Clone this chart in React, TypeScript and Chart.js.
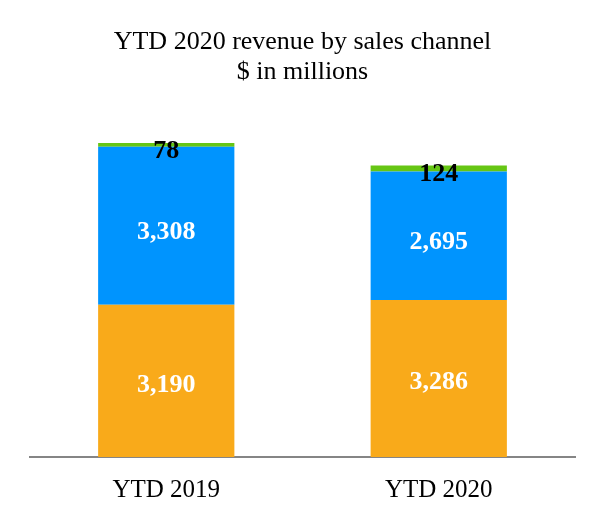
import React, { useEffect, useRef } from "react";
import { Chart, registerables } from "chart.js";

Chart.register(...registerables);

const categories = ["YTD 2019", "YTD 2020"];
const seriesOrange = [3190, 3286];
const seriesBlue = [3308, 2695];
const seriesGreen = [78, 124];
const titleLines = ["YTD 2020 revenue by sales channel", "$ in millions"];

const SERIF = "'Liberation Serif', 'Times New Roman', serif";

const labelPlugin = {
  id: "segLabels",
  afterDatasetsDraw(chart: any) {
    const ctx = chart.ctx;
    ctx.save();
    ctx.textAlign = "center";
    ctx.textBaseline = "middle";
    ctx.font = `bold 26px ${SERIF}`;
    chart.data.datasets.forEach((ds: any, di: number) => {
      const meta = chart.getDatasetMeta(di);
      meta.data.forEach((el: any, i: number) => {
        const v = ds.data[i];
        const cy = (el.y + el.base) / 2 + (ds.labelOffset || 0);
        ctx.fillStyle = ds.labelColor;
        ctx.fillText(v.toLocaleString("en-US"), el.x, cy);
      });
    });
    ctx.restore();
  },
};

export default function App() {
  const ref = useRef<HTMLCanvasElement>(null);
  useEffect(() => {
    const chart = new Chart(ref.current!, {
      type: "bar",
      data: {
        labels: categories,
        datasets: [
          { label: "A", data: seriesOrange, backgroundColor: "#F9AA1A", labelColor: "#ffffff", labelOffset: 4 } as any,
          { label: "B", data: seriesBlue, backgroundColor: "#0094FE", labelColor: "#ffffff", labelOffset: 7 } as any,
          { label: "C", data: seriesGreen, backgroundColor: "#66C614", labelColor: "#000000", labelOffset: 6 } as any,
        ],
      },
      options: {
        animation: false,
        responsive: false,
        maintainAspectRatio: false,
        layout: { padding: { left: 30, right: 29, top: 0, bottom: 8 } },
        datasets: { bar: { barPercentage: 0.5, categoryPercentage: 1 } },
        plugins: {
          legend: { display: false },
          tooltip: { enabled: false },
          title: {
            display: true,
            text: titleLines,
            color: "#000",
            font: { family: SERIF, size: 26, weight: "normal", lineHeight: 1.15 },
            padding: { top: 27, bottom: 13 },
          },
        },
        scales: {
          x: {
            stacked: true,
            grid: { display: false, drawTicks: false },
            border: { display: true, color: "#858585", width: 2 },
            ticks: { color: "#000", font: { family: SERIF, size: 25 }, padding: 18.5 },
          },
          y: {
            stacked: true,
            display: false,
            min: 0,
            max: 7480,
          },
        },
      },
      plugins: [labelPlugin],
    });
    return () => chart.destroy();
  }, []);
  return (
    <div style={{ position: "fixed", left: 0, top: 0, width: 604, height: 532, background: "#fff" }}>
      <canvas ref={ref} width={604} height={532} style={{ width: 604, height: 532 }} />
    </div>
  );
}
